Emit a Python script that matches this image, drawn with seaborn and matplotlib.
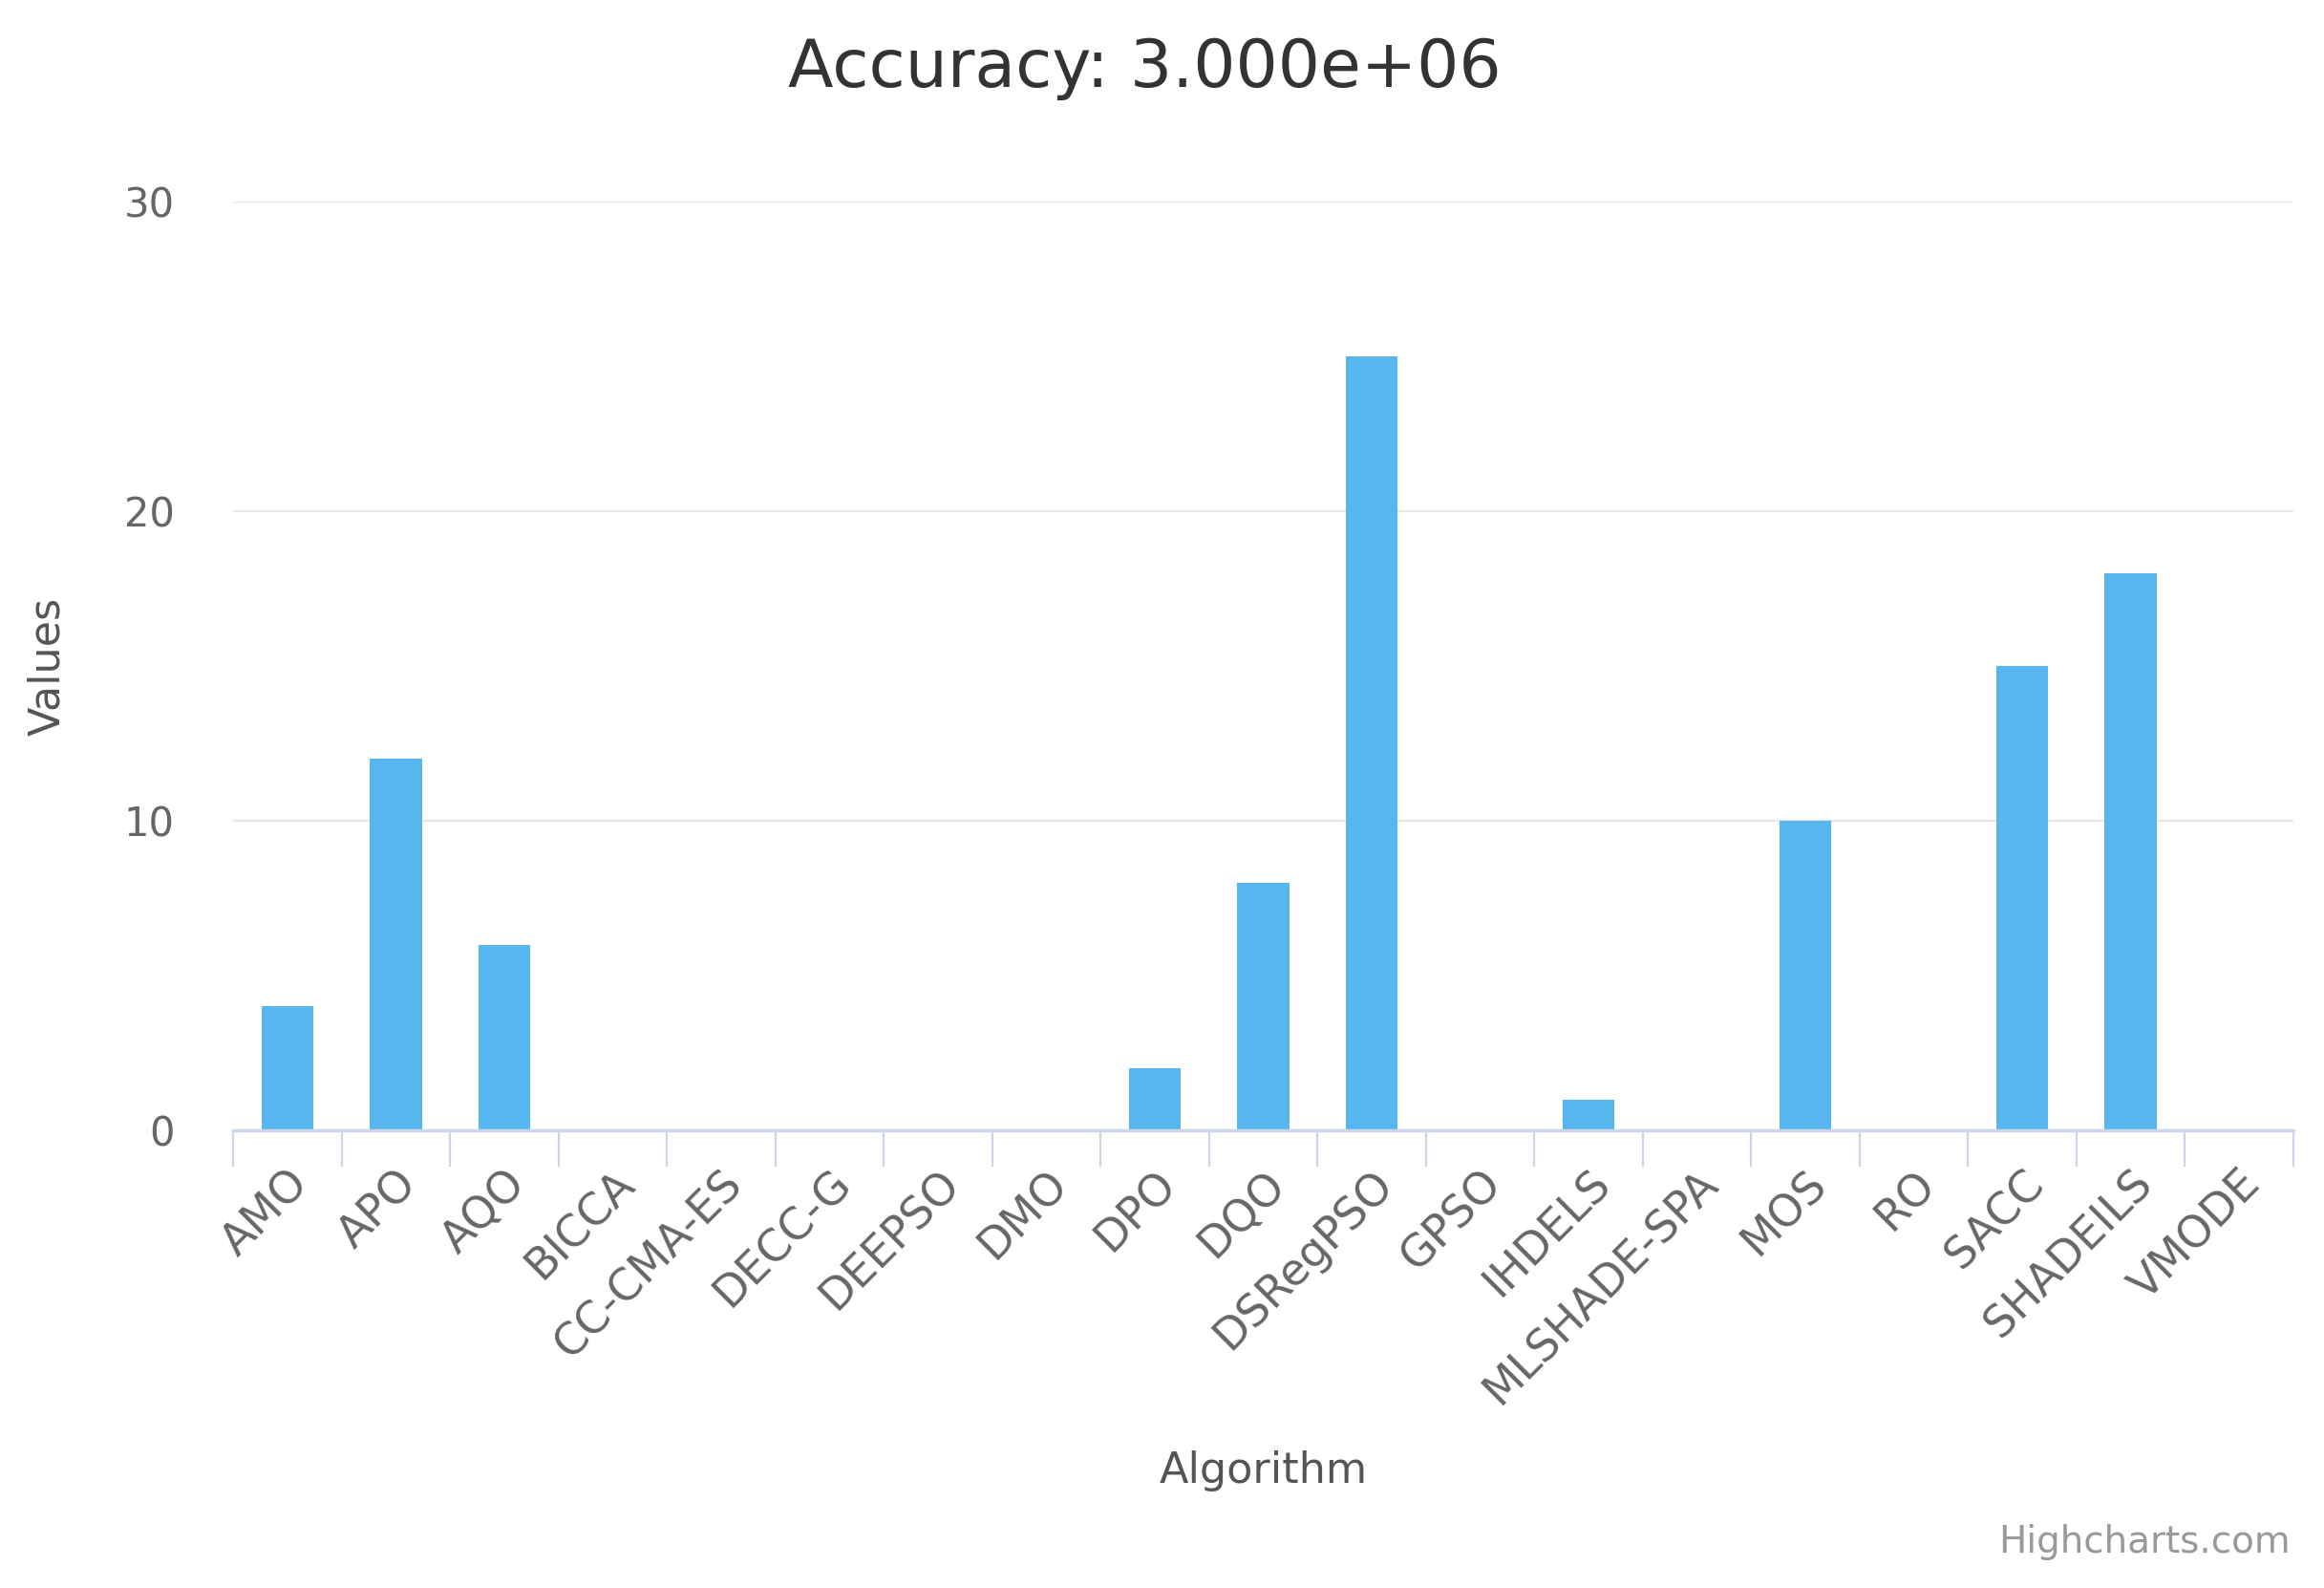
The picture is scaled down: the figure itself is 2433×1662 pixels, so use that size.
import pandas as pd
import matplotlib
matplotlib.use('Agg')
import matplotlib.pyplot as plt
import seaborn as sns
import numpy as np

# chart data
algorithms = ['AMO', 'APO', 'AQO', 'BICCA', 'CC-CMA-ES', 'DECC-G', 'DEEPSO', 'DMO',
              'DPO', 'DQO', 'DSRegPSO', 'GPSO', 'IHDELS', 'MLSHADE-SPA', 'MOS', 'RO',
              'SACC', 'SHADEILS', 'VMODE']
values = [4, 12, 6, 0, 0, 0, 0, 0, 2, 8, 25, 0, 1, 0, 10, 0, 15, 18, 0]
y_ticks = [0, 10, 20, 30]

df = pd.DataFrame({'Algorithm': algorithms, 'Values': values})

sns.set_style("white")
plt.rcParams['font.family'] = ['DejaVu Sans']

fig = plt.figure(figsize=(24.33, 16.62), dpi=100)
ax = fig.add_axes([0.1003, 0.2882, 0.8865, 0.5848])

sns.barplot(x='Algorithm', y='Values', data=df, color='#58b6ee', saturation=1,
            width=0.48, ax=ax, linewidth=0)

ax.set_ylim(0, 30)
ax.set_xlim(-0.5, len(algorithms) - 0.5)
ax.set_yticks(y_ticks)
ax.set_yticklabels([str(t) for t in y_ticks], fontsize=30, color='#666666')

# gridlines
ax.grid(axis='y', color='#e6e6e6', linewidth=1.6)
ax.set_axisbelow(True)
for side in ['top', 'right', 'left']:
    ax.spines[side].set_visible(False)
ax.spines['bottom'].set_color('#ccd6eb')
ax.spines['bottom'].set_linewidth(2.5)
ax.tick_params(axis='y', length=0, pad=44)

# category boundary ticks
ax.set_xticks(np.arange(-0.5, len(algorithms), 1.0), minor=True)
ax.tick_params(axis='x', which='minor', bottom=True, length=27, width=1.6,
               color='#ccd6eb')
ax.tick_params(axis='x', which='major', bottom=True, length=0, pad=24)
ax.set_xticks(range(len(algorithms)))
ax.set_xticklabels(algorithms, rotation=45, ha='right', rotation_mode='anchor',
                   fontsize=33, color='#666666')

ax.set_xlabel('Algorithm', fontsize=32, color='#555555')
ax.xaxis.set_label_coords(0.5, -0.345)
ax.set_ylabel('Values', fontsize=32, color='#555555')
ax.yaxis.set_label_coords(-0.08, 0.5)

fig.text(0.4925, 0.957, 'Accuracy: 3.000e+06', fontsize=50, color='#333333',
         ha='center', va='center')
fig.text(0.9856, 0.0289, 'Highcharts.com', fontsize=28, color='#999999',
         ha='right', va='center')

plt.savefig('out.png', dpi=100)
